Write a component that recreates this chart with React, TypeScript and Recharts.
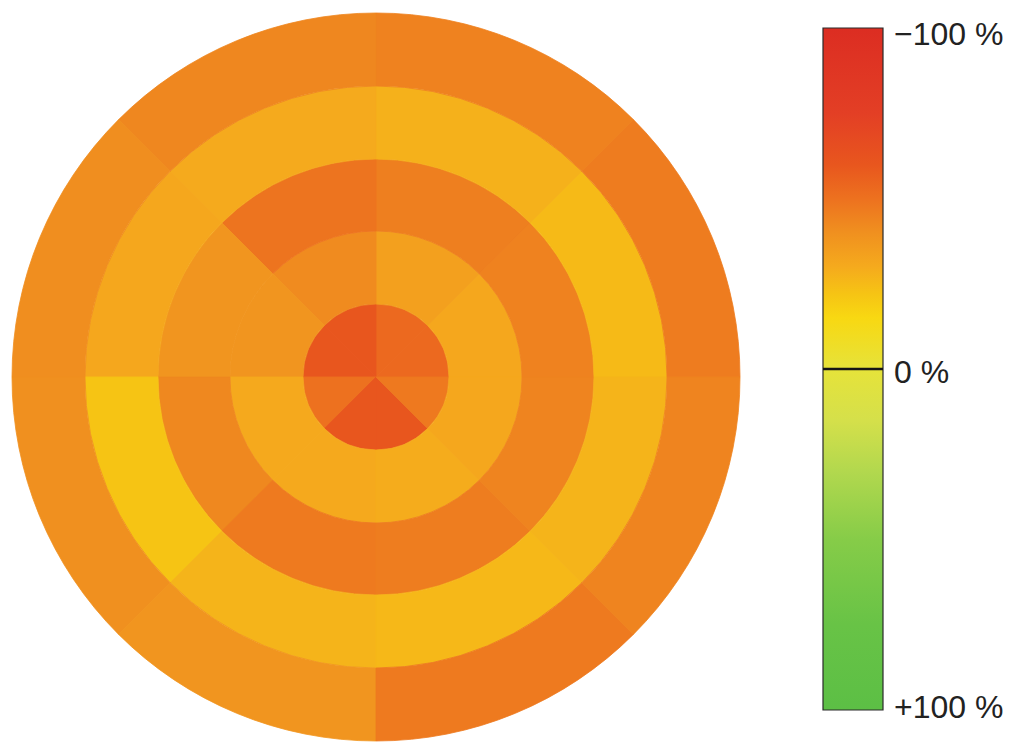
import React from 'react';
import { PieChart, Pie, Cell, BarChart, Bar, XAxis, YAxis, ReferenceLine } from 'recharts';

// Sector labels (counter-clockwise from 3 o'clock, 45° each)
const segments = ['0–45°', '45–90°', '90–135°', '135–180°', '180–225°', '225–270°', '270–315°', '315–360°'];

// Percent change per sector, ring by ring (innermost first)
const ring1 = [-53, -53, -60, -60, -50, -60, -60, -47.5];
const ring2 = [-31, -34, -41.5, -38, -30.5, -30.5, -29.5, -31];
const ring3 = [-44.5, -45.5, -49, -38, -42.5, -47, -46, -44];
const ring4 = [-25, -28, -30, -31, -22, -27, -25.7, -27];
const ring5 = [-46.5, -44.5, -43, -40.5, -40, -38, -47, -44];

const rings = [ring1, ring2, ring3, ring4, ring5];
const ringRadii = [0, 73, 146, 218, 291, 364];

// Colour scale
const scaleValues = [-100, -75, -60, -50, -40, -30, -22, -15, 0, 15, 30, 50, 75, 100];
const scaleColors = ['#dc2d22', '#e33f25', '#e8561e', '#ed711f', '#f0901f', '#f5aa1d', '#f6c414', '#f8d812', '#e6e33a', '#d5e04a', '#b2d84e', '#86cc48', '#68c346', '#5cbf45'];
const scaleTicks = [-100, 0, 100];
const scaleLabels = ['\u2212100 %', '0 %', '+100 %'];
const scaleBar = [{ name: 'scale', range: [-100, 100] }];

const hexToRgb = (h: string) => [parseInt(h.slice(1, 3), 16), parseInt(h.slice(3, 5), 16), parseInt(h.slice(5, 7), 16)];
const toHex = (n: number) => Math.round(n).toString(16).padStart(2, '0');

function colorFor(v: number): string {
  if (v <= scaleValues[0]) return scaleColors[0];
  for (let i = 1; i < scaleValues.length; i++) {
    if (v <= scaleValues[i]) {
      const t = (v - scaleValues[i - 1]) / (scaleValues[i] - scaleValues[i - 1]);
      const a = hexToRgb(scaleColors[i - 1]);
      const b = hexToRgb(scaleColors[i]);
      return '#' + toHex(a[0] + (b[0] - a[0]) * t) + toHex(a[1] + (b[1] - a[1]) * t) + toHex(a[2] + (b[2] - a[2]) * t);
    }
  }
  return scaleColors[scaleColors.length - 1];
}

const labelOffset: Record<number, number> = { [-100]: 6, 0: 3, 100: -3 };

const ScaleTick = (props: any) => {
  const { x, y, payload } = props;
  const idx = scaleTicks.indexOf(payload.value);
  return (
    <text
      x={x}
      y={y + (labelOffset[payload.value] ?? 0)}
      dominantBaseline="central"
      textAnchor="start"
      fontSize={32}
      fontFamily="'Liberation Sans', Arial, Helvetica, sans-serif"
      fill="#222"
    >
      {scaleLabels[idx]}
    </text>
  );
};

export default function App() {
  return (
    <div style={{ position: 'relative', width: 996, height: 737, background: '#fff' }}>
      <div style={{ position: 'absolute', left: 0, top: 0 }}>
        <PieChart width={740} height={737} margin={{ top: 0, right: 0, bottom: 0, left: 0 }}>
          {rings.map((ring, r) => {
            const data = segments.map((s, k) => ({ segment: s, value: 1, pct: ring[k] }));
            return (
              <Pie
                key={r}
                data={data}
                dataKey="value"
                nameKey="segment"
                cx={368}
                cy={369}
                innerRadius={ringRadii[r]}
                outerRadius={ringRadii[r + 1]}
                startAngle={0}
                endAngle={360}
                paddingAngle={0}
                isAnimationActive={false}
                label={false}
                labelLine={false}
              >
                {data.map((d, k) => (
                  <Cell key={k} fill={colorFor(d.pct)} stroke={colorFor(d.pct)} strokeWidth={0.8} />
                ))}
              </Pie>
            );
          })}
        </PieChart>
      </div>
      <div style={{ position: 'absolute', left: 740, top: 0 }}>
        <BarChart
          width={256}
          height={737}
          data={scaleBar}
          margin={{ top: 20, right: 0, bottom: 35, left: 75 }}
          barCategoryGap={0}
        >
          <defs>
            <linearGradient id="cbar" x1="0" y1="0" x2="0" y2="1">
              {scaleValues.map((v, i) => (
                <stop key={i} offset={`${(v + 100) / 2}%`} stopColor={scaleColors[i]} />
              ))}
            </linearGradient>
          </defs>
          <XAxis dataKey="name" type="category" hide />
          <YAxis
            type="number"
            orientation="right"
            domain={[-100, 100]}
            reversed
            ticks={scaleTicks}
            interval={0}
            width={121}
            axisLine={false}
            tickLine={false}
            tickSize={0}
            tickMargin={11}
            tick={<ScaleTick />}
          />
          <Bar
            dataKey="range"
            fill="url(#cbar)"
            stroke="#2a2a2a"
            strokeWidth={1.2}
            isAnimationActive={false}
          />
          <ReferenceLine y={0} stroke="#151515" strokeWidth={2.5} />
        </BarChart>
      </div>
    </div>
  );
}
